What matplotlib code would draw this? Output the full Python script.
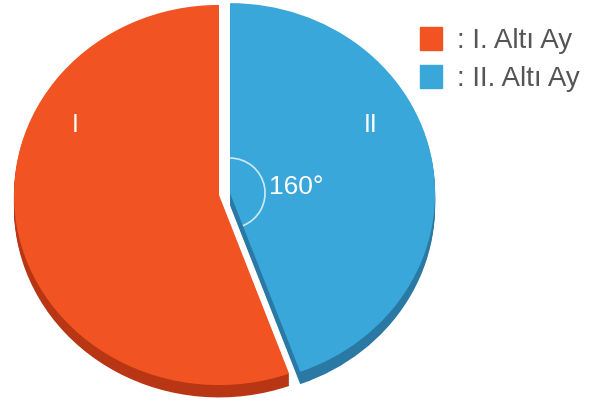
import matplotlib.pyplot as plt
from matplotlib.patches import Patch, Arc

# data (degrees of the circle)
slice_names = ['I', 'II']
slice_degrees = [200, 160]
legend_labels = [': I. Altı Ay', ': II. Altı Ay']
angle_label = '160°'

top_colors = ['#F15322', '#3AA7DA']
side_colors = ['#B83613', '#2A78A4']
explode = [0, 0.055]

fig = plt.figure(figsize=(6.03, 4.17), dpi=100)
ax = fig.add_axes([0, 0, 1, 1])

# fake 3d: stack a few darker pies below the top one
depth = 0.065
n_layers = 8
for k in range(n_layers, 0, -1):
    ax.pie(slice_degrees, colors=side_colors, explode=explode, startangle=90,
           counterclock=True, center=(0, -depth * k / n_layers),
           wedgeprops=dict(linewidth=0))
ax.pie(slice_degrees, colors=top_colors, explode=explode, startangle=90,
       counterclock=True, wedgeprops=dict(linewidth=0))

ax.set_aspect('auto')
ax.set_xlim(-1.068, 1.873)
ax.set_ylim(-1.168, 1.026)
ax.axis('off')

font = 'Liberation Sans'
ax.text(-0.70, 0.37, slice_names[0], color='white', fontsize=18,
        ha='center', va='center', family=font)
ax.text(0.74, 0.37, slice_names[1], color='white', fontsize=18,
        ha='center', va='center', family=font)

# angle marker of slice II
cx, cy = 0.054, 0.01
ax.add_patch(Arc((cx, cy), 2 * 35 / 205, 2 * 35 / 190, theta1=-70, theta2=90,
                 color='#cfeaf7', lw=1.2))
ax.text(0.245, 0.04, angle_label, color='white', fontsize=19,
        ha='left', va='center', family=font)

handles = [Patch(color=c) for c in top_colors]
leg = fig.legend(handles, legend_labels, loc='upper left',
                 bbox_to_anchor=(0.6965, 0.935), frameon=False,
                 handlelength=0.8, handleheight=0.9, handletextpad=0.55,
                 labelspacing=0.4, borderpad=0, borderaxespad=0,
                 prop=dict(family=font, size=20))
for t in leg.get_texts():
    t.set_color('#555555')

fig.savefig('out.png', dpi=100)
